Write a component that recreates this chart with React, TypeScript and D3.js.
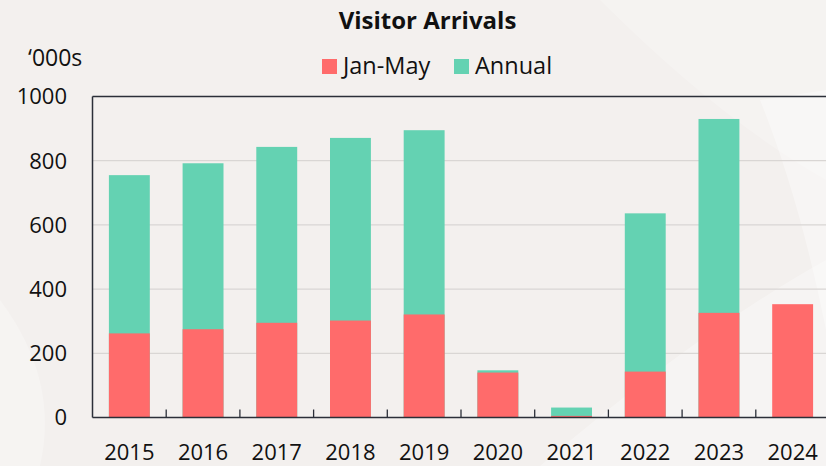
import React, { useEffect, useRef } from "react";
import * as d3 from "d3";

const years = ["2015", "2016", "2017", "2018", "2019", "2020", "2021", "2022", "2023", "2024"];
const janMay = [262, 275, 295, 302, 321, 140, 5, 143, 326, 353];
const annual = [755, 792, 843, 871, 895, 147, 31, 636, 930, null];
const yTicks = [0, 200, 400, 600, 800, 1000];

const RED = "#ff6b6b";
const TEAL = "#64d2b2";
const FONT = "'Open Sans', 'DejaVu Sans', sans-serif";

export default function App() {
  const svgRef = useRef<SVGSVGElement>(null);

  useEffect(() => {
    document.body.style.margin = "0";
    const width = 826;
    const height = 466;
    const margin = { top: 96.5, right: -3.5, bottom: 48.5, left: 92.5 };

    const svg = d3.select(svgRef.current);
    svg.selectAll("*").remove();
    svg.attr("width", width).attr("height", height).attr("viewBox", `0 0 ${width} ${height}`);

    // background with faint lighter patches
    svg.append("rect").attr("width", width).attr("height", height).attr("fill", "#f3f0ee");
    const deco = svg.append("g").attr("fill", "#ffffff");
    deco.append("path").attr("d", "M600,0 L826,0 L826,180 Q720,120 600,0 Z").attr("opacity", 0.2);
    deco.append("path").attr("d", "M540,466 Q700,330 826,260 L826,466 Z").attr("opacity", 0.3);
    deco.append("path").attr("d", "M0,300 Q60,380 40,466 L0,466 Z").attr("opacity", 0.25);
    deco.append("path").attr("d", "M760,100 Q800,200 826,330 L826,90 Z").attr("opacity", 0.35);

    const x = d3.scaleBand()
      .domain(years)
      .range([margin.left, width - margin.right])
      .paddingInner(0.445)
      .paddingOuter(0.2225);

    const y = d3.scaleLinear()
      .domain([0, 1000])
      .range([height - margin.bottom, margin.top]);

    // gridlines
    svg.append("g")
      .selectAll("line")
      .data(yTicks.filter(t => t > 0 && t < 1000))
      .enter()
      .append("line")
      .attr("x1", margin.left)
      .attr("x2", width)
      .attr("y1", d => y(d))
      .attr("y2", d => y(d))
      .attr("stroke", "#d9d6d4")
      .attr("stroke-width", 1.3);

    // annual bars (behind)
    svg.append("g")
      .selectAll("rect")
      .data(years.map((yr, i) => ({ yr, v: annual[i] })).filter(d => d.v != null))
      .enter()
      .append("rect")
      .attr("x", d => x(d.yr)!)
      .attr("width", x.bandwidth())
      .attr("y", d => y(d.v as number))
      .attr("height", d => y(0) - y(d.v as number))
      .attr("fill", TEAL);

    // Jan-May bars (front)
    svg.append("g")
      .selectAll("rect")
      .data(years.map((yr, i) => ({ yr, v: janMay[i] })))
      .enter()
      .append("rect")
      .attr("x", d => x(d.yr)!)
      .attr("width", x.bandwidth())
      .attr("y", d => y(d.v))
      .attr("height", d => y(0) - y(d.v))
      .attr("fill", RED);

    // frame: top line, left axis, bottom axis
    const axisColor = "#2b2f38";
    svg.append("line")
      .attr("x1", margin.left).attr("x2", width)
      .attr("y1", y(1000)).attr("y2", y(1000))
      .attr("stroke", axisColor).attr("stroke-width", 1.3);
    svg.append("line")
      .attr("x1", margin.left).attr("x2", margin.left)
      .attr("y1", y(1000)).attr("y2", y(0))
      .attr("stroke", axisColor).attr("stroke-width", 1.5);
    svg.append("line")
      .attr("x1", margin.left).attr("x2", width)
      .attr("y1", y(0)).attr("y2", y(0))
      .attr("stroke", axisColor).attr("stroke-width", 1.5);

    // inward category ticks between bands
    const step = x.step();
    svg.append("g")
      .selectAll("line")
      .data(years.slice(1))
      .enter()
      .append("line")
      .attr("x1", d => x(d)! - (step - x.bandwidth()) / 2)
      .attr("x2", d => x(d)! - (step - x.bandwidth()) / 2)
      .attr("y1", y(0))
      .attr("y2", y(0) - 8)
      .attr("stroke", axisColor)
      .attr("stroke-width", 1.3);

    // y tick labels
    svg.append("g")
      .selectAll("text")
      .data(yTicks)
      .enter()
      .append("text")
      .attr("x", 67)
      .attr("y", d => y(d))
      .attr("dy", "0.36em")
      .attr("text-anchor", "end")
      .attr("font-family", FONT)
      .attr("font-size", 22)
      .attr("fill", "#111")
      .text(d => d);

    // x tick labels
    svg.append("g")
      .selectAll("text")
      .data(years)
      .enter()
      .append("text")
      .attr("x", d => x(d)! + x.bandwidth() / 2)
      .attr("y", 460)
      .attr("text-anchor", "middle")
      .attr("font-family", FONT)
      .attr("font-size", 22)
      .attr("fill", "#111")
      .text(d => d);

    // title
    svg.append("text")
      .attr("x", 427.5)
      .attr("y", 29)
      .attr("text-anchor", "middle")
      .attr("font-family", FONT)
      .attr("font-weight", "bold")
      .attr("font-size", 24)
      .attr("fill", "#111")
      .text("Visitor Arrivals");

    // unit label
    svg.append("text")
      .attr("x", 28)
      .attr("y", 66)
      .attr("font-family", FONT)
      .attr("font-size", 23)
      .attr("fill", "#111")
      .text("\u2018000s");

    // legend
    const legend = [
      { label: "Jan-May", color: RED, x: 322 },
      { label: "Annual", color: TEAL, x: 454 },
    ];
    const lg = svg.append("g").selectAll("g").data(legend).enter().append("g");
    lg.append("rect")
      .attr("x", d => d.x)
      .attr("y", 59)
      .attr("width", 15)
      .attr("height", 15)
      .attr("fill", d => d.color);
    lg.append("text")
      .attr("x", d => d.x + 21)
      .attr("y", 74)
      .attr("font-family", FONT)
      .attr("font-size", 23.5)
      .attr("fill", "#111")
      .text(d => d.label);
  }, []);

  return <svg ref={svgRef} style={{ display: "block" }} />;
}
